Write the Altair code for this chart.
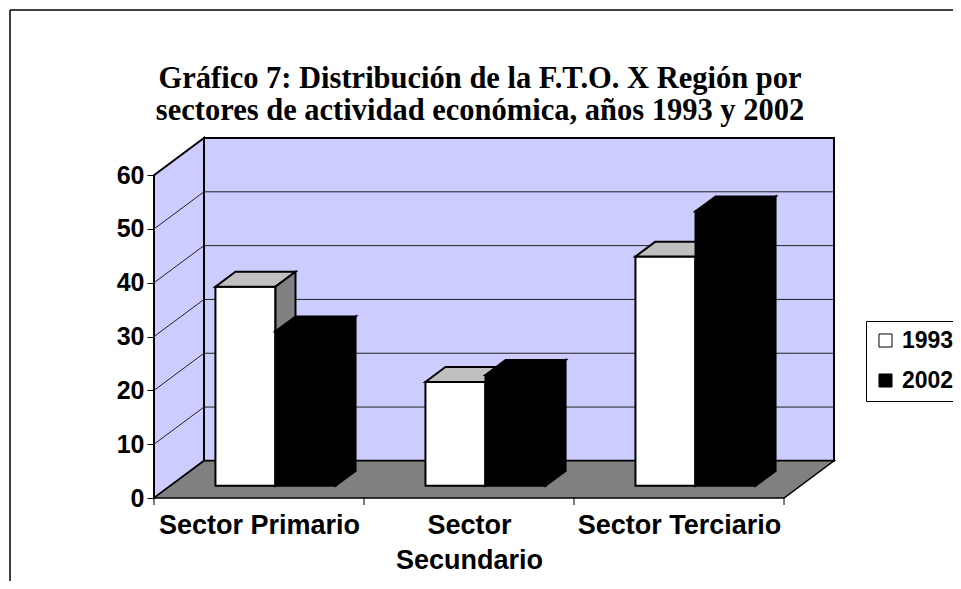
import json
import altair as alt
import pandas as pd

# ---------------- data ----------------
categories = ["Sector Primario", "Sector Secundario", "Sector Terciario"]
years = ["1993", "2002"]
values_1993 = [37.0, 19.3, 42.6]
values_2002 = [28.7, 20.6, 51.0]
y_ticks = [0, 10, 20, 30, 40, 50, 60]
title_lines = ["Gráfico 7: Distribución de la F.T.O. X Región por",
               "sectores de actividad económica, años 1993 y 2002"]

# ---------------- 3-D look (in scale units) ----------------
Y_MAX = 60
DEPTH_X = 0.238   # depth shift, category units
DEPTH_Y = 6.9     # depth shift, value units
BAR_W = 0.286
GAP = 0.214
F = 0.33          # bar front at this fraction of the depth
D = 0.40          # bar depth as fraction of the depth
W, H = 680, 360
N = len(categories)

series = {"1993": values_1993, "2002": values_2002}
front_rows, top_rows, side_rows = [], [], []
for s, yr in enumerate(years):
    for i, (cat, v) in enumerate(zip(categories, series[yr])):
        x0 = i + GAP + s * BAR_W + F * DEPTH_X
        x1 = x0 + BAR_W
        yb = F * DEPTH_Y
        yt = v + yb
        ddx, ddy = D * DEPTH_X, D * DEPTH_Y
        bar = f"{yr}-{i}"
        front_rows.append(dict(year=yr, sector=cat, value=v, x0=x0, x1=x1, yb=yb, yt=yt))
        top_rows += [dict(year=yr, bar=bar, y=yt, xa=x0, xb=x1),
                     dict(year=yr, bar=bar, y=yt + ddy, xa=x0 + ddx, xb=x1 + ddx)]
        side_rows += [dict(year=yr, bar=bar, x=x1, ya=yb, yb2=yt),
                      dict(year=yr, bar=bar, x=x1 + ddx, ya=yb + ddy, yb2=yt + ddy)]
front_df = pd.DataFrame(front_rows)
top_df = pd.DataFrame(top_rows)
side_df = pd.DataFrame(side_rows)

# ---------------- scales / axes ----------------
xscale = alt.Scale(domain=[0, N + DEPTH_X], nice=False, zero=False)
yscale = alt.Scale(domain=[0, Y_MAX + DEPTH_Y], nice=False, zero=False)


def lab(c):
    return json.dumps(c.split(" ")) if len(c) > 16 else json.dumps(c)


label_expr = f"datum.value < 1 ? {lab(categories[0])} : (datum.value < 2 ? {lab(categories[1])} : {lab(categories[2])})"

AX_FONT = "Liberation Sans"
xaxis = alt.Axis(values=[i + 0.5 for i in range(N)], labelExpr=label_expr, ticks=False,
                 domain=False, grid=False, title=None, labelFont=AX_FONT,
                 labelFontWeight="bold", labelFontSize=27, labelColor="black",
                 labelPadding=14, labelLimit=400, labelLineHeight=35, labelOverlap=False)
yaxis = alt.Axis(values=y_ticks, domain=False, grid=False, title=None, tickColor="black",
                 tickSize=7, tickWidth=1, labelFont=AX_FONT, labelFontWeight="bold",
                 labelFontSize=25, labelColor="black", labelPadding=3)


def X(f):
    return alt.X(f, type="quantitative", scale=xscale, axis=xaxis)


def Y(f):
    return alt.Y(f, type="quantitative", scale=yscale, axis=yaxis)


WALL = "#CCCCFF"

# back wall
wall = alt.Chart(pd.DataFrame([dict(x=DEPTH_X, x2=N + DEPTH_X, y=DEPTH_Y, y2=Y_MAX + DEPTH_Y)])).mark_rect(
    fill=WALL, stroke="black", strokeWidth=2).encode(x=X("x"), x2=alt.X2("x2"), y=Y("y"), y2=alt.Y2("y2"))

inner_ticks = y_ticks[1:-1]
grid_back = alt.Chart(pd.DataFrame([dict(x=DEPTH_X, x2=N + DEPTH_X, y=v + DEPTH_Y) for v in inner_ticks])).mark_rule(
    color="#222222", strokeWidth=1).encode(x=X("x"), x2=alt.X2("x2"), y=Y("y"))

side_wall = alt.Chart(pd.DataFrame([dict(x=0, y=0, y2=Y_MAX),
                                    dict(x=DEPTH_X, y=DEPTH_Y, y2=Y_MAX + DEPTH_Y)])).mark_area(
    fill=WALL, stroke="black", strokeWidth=2, orient="vertical", strokeJoin="miter").encode(
    x=X("x"), y=Y("y"), y2=alt.Y2("y2"))

grid_side = alt.Chart(pd.DataFrame([dict(x=0, x2=DEPTH_X, y=v, y2=v + DEPTH_Y) for v in inner_ticks])).mark_rule(
    color="#222222", strokeWidth=1).encode(x=X("x"), x2=alt.X2("x2"), y=Y("y"), y2=alt.Y2("y2"))

floor = alt.Chart(pd.DataFrame([dict(y=0, xa=0, xb=N),
                                dict(y=DEPTH_Y, xa=DEPTH_X, xb=N + DEPTH_X)])).mark_area(
    fill="#808080", stroke="black", strokeWidth=1.5, orient="horizontal", strokeJoin="miter").encode(
    y=Y("y"), x=X("xa"), x2=alt.X2("xb"))

legend = alt.Legend(orient="none", legendX=712, legendY=183, title=None, direction="vertical",
                    strokeColor="black", fillColor="white", padding=8, symbolType="square",
                    symbolSize=170, symbolStrokeColor="black", symbolStrokeWidth=1,
                    labelFont=AX_FONT, labelFontWeight="bold", labelFontSize=23,
                    labelColor="black", rowPadding=16, labelOffset=5)
fill_enc = alt.Fill("year:N", scale=alt.Scale(domain=years, range=["#FFFFFF", "#000000"]), legend=legend)

top_colors = {"1993": "#C0C0C0", "2002": "#000000"}
side_colors = {"1993": "#808080", "2002": "#000000"}

bar_layers = []
for yr in years:
    fr = alt.Chart(front_df[front_df.year == yr]).mark_rect(stroke="black", strokeWidth=2).encode(
        x=X("x0"), x2=alt.X2("x1"), y=Y("yb"), y2=alt.Y2("yt"), fill=fill_enc,
        tooltip=["sector:N", "year:N", "value:Q"])
    tp = alt.Chart(top_df[top_df.year == yr]).mark_area(
        orient="horizontal", fill=top_colors[yr], stroke="black", strokeWidth=2, strokeJoin="miter").encode(
        y=Y("y"), x=X("xa"), x2=alt.X2("xb"), detail="bar:N")
    sd = alt.Chart(side_df[side_df.year == yr]).mark_area(
        orient="vertical", fill=side_colors[yr], stroke="black", strokeWidth=2, strokeJoin="miter").encode(
        x=X("x"), y=Y("ya"), y2=alt.Y2("yb2"), detail="bar:N")
    bar_layers += [fr, tp, sd]

xticks = alt.Chart(pd.DataFrame({"x": list(range(N + 1))})).mark_rule(color="black", strokeWidth=1).encode(
    x=X("x"), y=alt.value(H), y2=alt.value(H + 7))

one = pd.DataFrame({"t": ["\n".join(title_lines)]})
title = alt.Chart(one).mark_text(font="Liberation Serif", fontSize=30.5, fontWeight="bold", lineBreak="\n",
                                 align="center", baseline="middle", lineHeight=32, color="black").encode(
    text="t:N", x=alt.value(326), y=alt.value(-59))

border_l = alt.Chart(one).mark_rule(color="black", strokeWidth=1.5).encode(
    x=alt.value(-144), y=alt.value(-128), y2=alt.value(H + 200))
border_t = alt.Chart(one).mark_rule(color="black", strokeWidth=1.5).encode(
    x=alt.value(-144), x2=alt.value(W + 200), y=alt.value(-128))

chart = alt.layer(wall, grid_back, side_wall, grid_side, floor, *bar_layers, xticks, title,
                  border_l, border_t).properties(
    width=W, height=H,
    padding={"left": 146, "top": 130, "right": 119, "bottom": 83},
    autosize=alt.AutoSizeParams(type="none"),
    background="white",
).configure_view(stroke=None)

chart.save("out.html", embed_options={"renderer": "svg", "actions": False})
